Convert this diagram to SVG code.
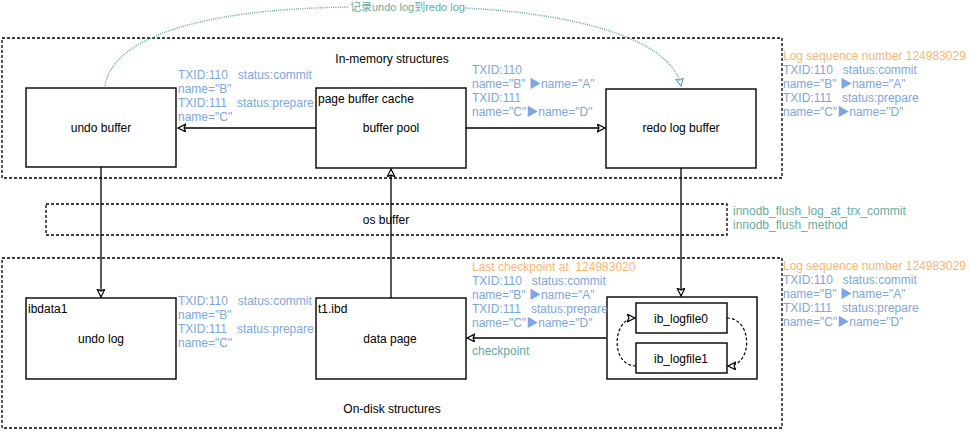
<svg xmlns="http://www.w3.org/2000/svg" width="970" height="432" viewBox="0 0 970 432">
<style>
text{font-family:"Liberation Sans",Arial,"Noto Sans CJK SC",sans-serif;font-size:12px;fill:#000;white-space:pre}
.b{fill:#7EA6E0}
.o{fill:#FFB570}
.g{fill:#67AB9F}
.m{text-anchor:middle}
.box{fill:#fff;stroke:#000;stroke-width:1.4}
.cont{fill:none;stroke:#000;stroke-width:1.3;stroke-dasharray:3 2}
.edge{fill:none;stroke:#000;stroke-width:1.3}
.loop{fill:none;stroke:#000;stroke-width:1.2;stroke-dasharray:3 2}
.dot{fill:none;stroke:#67AB9F;stroke-width:1.5;stroke-dasharray:1 1.2}
</style>
<defs>
<marker id="arr" markerUnits="userSpaceOnUse" markerWidth="10" markerHeight="10" refX="8" refY="4" orient="auto">
<path d="M0,0 L8,4 L0,8 L2,4 Z" fill="#fff" stroke="#000" stroke-width="1.2"/>
</marker>
<marker id="arrg" markerUnits="userSpaceOnUse" markerWidth="10" markerHeight="10" refX="8" refY="4" orient="auto">
<path d="M0,0 L8,4 L0,8 L2,4 Z" fill="#fff" stroke="#67AB9F" stroke-width="1.2"/>
</marker>
</defs>

<g id="in-memory">
<rect class="cont" x="2" y="38" width="780" height="140"/>
<text class="m" x="392" y="63">In-memory structures</text>
</g>
<g id="on-disk">
<rect class="cont" x="2" y="258" width="780" height="170"/>
<text class="m" x="392" y="413">On-disk structures</text>
</g>
<g id="os-buffer">
<rect class="cont" x="46" y="204" width="681" height="31"/>
<text class="m" x="386" y="224">os buffer</text>
</g>

<g id="undo-buffer">
<rect class="box" x="26" y="88" width="150" height="79"/>
<text class="m" x="101" y="132">undo buffer</text>
</g>
<g id="buffer-pool">
<rect class="box" x="316" y="88" width="150" height="80"/>
<text x="318" y="103">page buffer cache</text>
<text class="m" x="391" y="132">buffer pool</text>
</g>
<g id="redo-log-buffer">
<rect class="box" x="606" y="89" width="150" height="79"/>
<text class="m" x="681" y="132">redo log buffer</text>
</g>
<g id="undo-log">
<rect class="box" x="26" y="298" width="150" height="81"/>
<text x="28" y="313">ibdata1</text>
<text class="m" x="101" y="343">undo log</text>
</g>
<g id="data-page">
<rect class="box" x="316" y="298" width="150" height="81"/>
<text x="318" y="313">t1.ibd</text>
<text class="m" x="390" y="343">data page</text>
</g>
<g id="redo-log-files">
<rect class="box" x="607" y="297" width="150" height="82"/>
</g>
<g id="ib-logfile0">
<rect class="box" x="636" y="303" width="91" height="30"/>
<text class="m" x="681" y="323">ib_logfile0</text>
</g>
<g id="ib-logfile1">
<rect class="box" x="636" y="343" width="91" height="30"/>
<text class="m" x="681" y="363">ib_logfile1</text>
</g>

<g id="connectors">
<path class="edge" d="M316,128 L178,128" marker-end="url(#arr)"/>
<path class="edge" d="M466,128 L605,128" marker-end="url(#arr)"/>
<path class="edge" d="M101,167 L101,297" marker-end="url(#arr)"/>
<path class="edge" d="M391,298 L391,169" marker-end="url(#arr)"/>
<path class="edge" d="M681,168 L681,296" marker-end="url(#arr)"/>
<path class="edge" d="M606,338 L467,338" marker-end="url(#arr)"/>
<path class="loop" d="M636,366 C610,366 612,318 635,318" marker-end="url(#arr)"/>
<path class="loop" d="M727,318 C753,318 753,366 728,366" marker-end="url(#arr)"/>
<path class="dot" d="M105,86 C112,38 200,9 349,7"/>
<path class="dot" d="M465,8 C580,14 672,40 681,86" marker-end="url(#arrg)"/>
<text class="g" x="350" y="11" style="font-size:11px">记录undo log到redo log</text>
</g>

<g id="labels">
<text class="b" x="178" y="79">TXID:110   status:commit</text>
<text class="b" x="178" y="93">name="B"</text>
<text class="b" x="178" y="107">TXID:111   status:prepare</text>
<text class="b" x="178" y="121">name="C"</text>

<text class="b" x="472" y="74">TXID:110</text>
<text class="b" x="472" y="88">name="B" ▶name="A"</text>
<text class="b" x="472" y="102">TXID:111</text>
<text class="b" x="472" y="116">name="C"▶name="D"</text>

<text class="o" x="783" y="60">Log sequence number 124983029</text>
<text class="b" x="783" y="74">TXID:110   status:commit</text>
<text class="b" x="783" y="88">name="B" ▶name="A"</text>
<text class="b" x="783" y="102">TXID:111   status:prepare</text>
<text class="b" x="783" y="116">name="C"▶name="D"</text>

<text class="g" x="733" y="215">innodb_flush_log_at_trx_commit</text>
<text class="g" x="733" y="229">innodb_flush_method</text>

<text class="b" x="178" y="305">TXID:110   status:commit</text>
<text class="b" x="178" y="319">name="B"</text>
<text class="b" x="178" y="333">TXID:111   status:prepare</text>
<text class="b" x="178" y="347">name="C"</text>

<text class="o" x="472" y="271">Last checkpoint at  124983020</text>
<text class="b" x="472" y="285">TXID:110   status:commit</text>
<text class="b" x="472" y="299">name="B" ▶name="A"</text>
<text class="b" x="472" y="313">TXID:111   status:prepare</text>
<text class="b" x="472" y="327">name="C"▶name="D"</text>
<text class="g" x="472" y="355">checkpoint</text>

<text class="o" x="783" y="270">Log sequence number 124983029</text>
<text class="b" x="783" y="284">TXID:110   status:commit</text>
<text class="b" x="783" y="298">name="B" ▶name="A"</text>
<text class="b" x="783" y="312">TXID:111   status:prepare</text>
<text class="b" x="783" y="326">name="C"▶name="D"</text>
</g>
</svg>
